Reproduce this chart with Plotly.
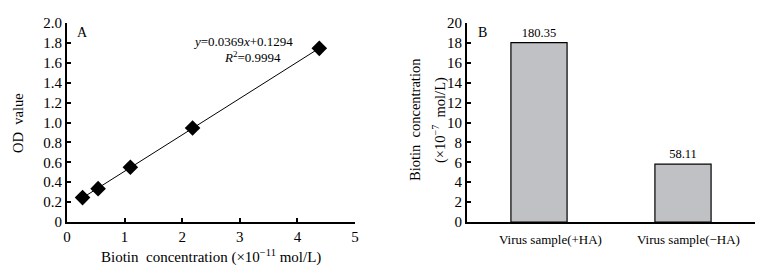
import numpy as np
import plotly.graph_objects as go

# Panel A data
conc = [0.27, 0.54, 1.1, 2.18, 4.38]
od = [0.245, 0.335, 0.55, 0.945, 1.745]
a_xticks = [0, 1, 2, 3, 4, 5]
a_yticks = [0, 0.2, 0.4, 0.6, 0.8, 1.0, 1.2, 1.4, 1.6, 1.8, 2.0]
a_yticktext = ["0", "0.2", "0.4", "0.6", "0.8", "1.0", "1.2", "1.4", "1.6", "1.8", "2.0"]

# Panel B data
samples = ["Virus sample(+HA)", "Virus sample(−HA)"]
biotin = [18.035, 5.811]
bar_labels = ["180.35", "58.11"]
b_yticks = [0, 2, 4, 6, 8, 10, 12, 14, 16, 18, 20]

W, H = 776, 274
OFF = 8  # default page body margin
def px(x):
    return (x - OFF) / W
def py(y):
    return 1 - (y - OFF) / H

FONT = "Liberation Serif"
fig = go.Figure()

# trendline
coef = np.polyfit(conc, od, 1)
lx = [min(conc), max(conc)]
ly = [coef[0] * v + coef[1] for v in lx]
fig.add_trace(go.Scatter(x=lx, y=ly, mode="lines", line=dict(color="black", width=1),
                         xaxis="x", yaxis="y", showlegend=False, hoverinfo="skip"))
fig.add_trace(go.Scatter(x=conc, y=od, mode="markers",
                         marker=dict(symbol="diamond", size=12, color="black"),
                         xaxis="x", yaxis="y", showlegend=False))

fig.add_trace(go.Bar(x=samples, y=biotin, width=0.39,
                     marker=dict(color="#c0c1c5", line=dict(color="black", width=1.2)),
                     text=bar_labels, textposition="outside",
                     textfont=dict(family=FONT, size=12.5, color="black"),
                     cliponaxis=False,
                     xaxis="x2", yaxis="y2", showlegend=False))

ydom = [py(222), py(23)]
axis_common = dict(showline=True, linecolor="black", linewidth=2, showgrid=False,
                   zeroline=False, ticks="inside", ticklen=4, tickwidth=2, tickcolor="black",
                   automargin=False,
                   tickfont=dict(family=FONT, size=15, color="black"))

fig.update_layout(
    template="none",
    width=W, height=H,
    margin=dict(l=0, r=0, t=0, b=0),
    paper_bgcolor="white", plot_bgcolor="white",
    xaxis=dict(domain=[px(67), px(355)], range=[0, 5], tickvals=a_xticks,
               anchor="y", **axis_common),
    yaxis=dict(domain=ydom, range=[0, 2.0], tickvals=a_yticks, ticktext=a_yticktext,
               anchor="x", ticklabelstandoff=0, **axis_common),
    xaxis2=dict(domain=[px(467), px(755)], range=[-0.5, 1.5], anchor="y2",
                showline=True, linecolor="black", linewidth=2, showgrid=False,
                zeroline=False, ticks="", automargin=False, showticklabels=False),
    yaxis2=dict(domain=ydom, range=[0, 20], tickvals=b_yticks, anchor="x2",
                ticklabelstandoff=0, **axis_common),
    font=dict(family=FONT, color="black"),
)

# category labels (slightly right of bar centres, as in the original)
for cat, dx in zip(samples, [11, 5]):
    fig.add_annotation(x=cat, y=0, xref="x2", yref="y2", text=cat, showarrow=False,
                       xanchor="center", yanchor="middle", xshift=dx, yshift=-17,
                       font=dict(family=FONT, size=13, color="black"))

ann = [
    dict(x=px(82), y=py(32), text="A", size=14),
    dict(x=px(482), y=py(32), text="B", size=14),
    dict(x=px(243), y=py(42), text="<i>y</i>=0.0369<i>x</i>+0.1294", size=13),
    dict(x=px(252), y=py(57), text="<i>R</i><sup>2</sup>=0.9994", size=13),
    dict(x=px(211), y=py(257), text="Biotin  concentration (×10<sup>−11</sup> mol/L)", size=15),
    dict(x=px(18), y=py(123), text="OD  value", size=14.5, angle=-90),
    dict(x=px(415), y=py(120), text="Biotin  concentration", size=14.5, angle=-90),
    dict(x=px(440), y=py(120), text="(×10<sup>−7</sup>  mol/L)", size=14.5, angle=-90),
]
for a in ann:
    fig.add_annotation(x=a["x"], y=a["y"], xref="paper", yref="paper", text=a["text"],
                       showarrow=False, xanchor="center", yanchor="middle",
                       textangle=a.get("angle", 0),
                       font=dict(family=FONT, size=a["size"], color="black"))

fig.write_html("out.html")
